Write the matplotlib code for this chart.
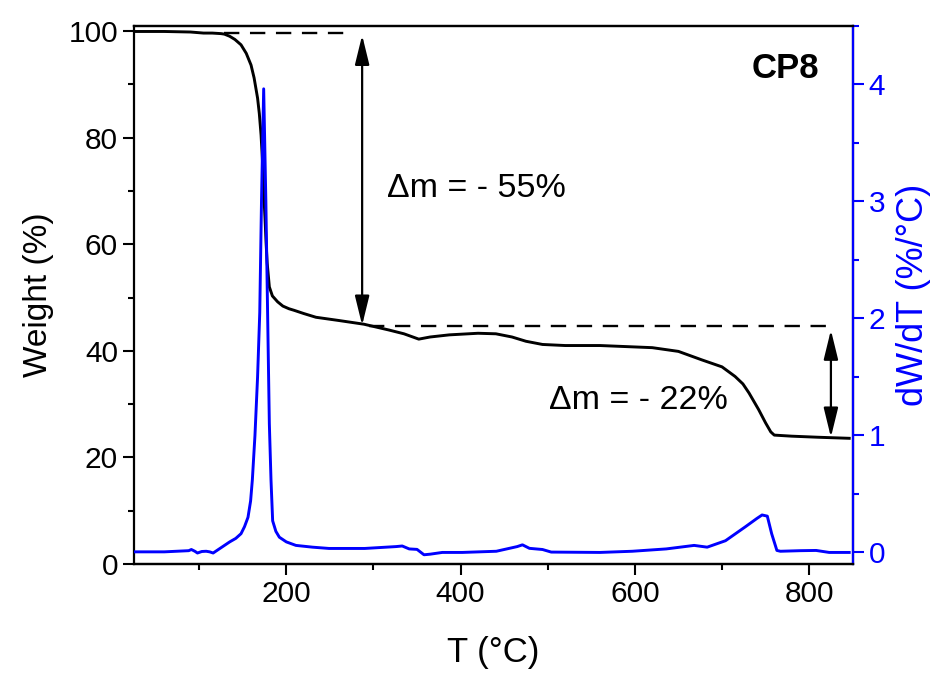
import matplotlib
matplotlib.use("Agg")
import matplotlib.pyplot as plt
from matplotlib.ticker import MultipleLocator

plt.rcParams['font.family'] = ['Liberation Sans', 'DejaVu Sans']

# Weight (TGA) curve
temp_w = [25, 60, 90, 105, 115, 125, 129, 135, 141, 148, 154, 159.5, 163, 167, 169, 171, 172.5,
          174, 175.5, 176.7, 178, 180.5, 184, 190, 196, 203, 209, 220, 234, 260, 289, 318, 335,
          352, 365, 387, 420, 440.5, 459, 475, 494, 520, 560, 620, 650, 677, 700, 715, 724, 731,
          742, 750, 756, 760, 780, 810, 846]
weight = [99.9, 99.9, 99.8, 99.6, 99.6, 99.5, 99.4, 99.0, 98.4, 97.4, 95.8, 93.6, 91.2, 87.4,
          84.5, 80.5, 76.0, 69.9, 65.0, 60.5, 56.5, 52.0, 50.3, 49.2, 48.4, 47.9, 47.6, 47.0,
          46.3, 45.7, 45.0, 43.9, 43.2, 42.2, 42.6, 43.0, 43.3, 43.2, 42.6, 41.8, 41.2, 41.0,
          41.0, 40.6, 39.9, 38.3, 37.0, 35.2, 33.8, 32.1, 29.0, 26.5, 24.8, 24.2, 24.0, 23.8, 23.6]

# Derivative (DTG) curve
temp_d = [25, 60, 88, 91, 95, 98, 103, 108, 112, 116, 121, 127, 135, 142, 148, 152, 156, 159,
          161, 164, 167, 169.5, 171.5, 174, 176.5, 178.5, 180.5, 182.4, 184.3, 188, 192, 200,
          211, 230, 249, 290, 326, 333, 341, 350, 358, 365, 379, 402, 441, 456, 465, 471, 479,
          494, 504, 560, 597, 636, 668, 683, 704, 727, 740, 746, 752, 757, 763, 767, 790, 808,
          823, 846]
dwdt = [0.005, 0.005, 0.015, 0.025, 0.01, -0.005, 0.008, 0.01, 0.005, -0.005, 0.02, 0.05, 0.09,
        0.12, 0.16, 0.22, 0.3, 0.44, 0.62, 1.0, 1.5, 2.05, 3.0, 3.96, 3.0, 2.05, 1.1, 0.62, 0.27,
        0.18, 0.13, 0.09, 0.06, 0.045, 0.034, 0.034, 0.05, 0.055, 0.03, 0.026, -0.02, -0.015,
        0.0, 0.0, 0.01, 0.035, 0.05, 0.065, 0.035, 0.025, 0.003, 0.0, 0.01, 0.03, 0.06, 0.045,
        0.1, 0.22, 0.29, 0.32, 0.31, 0.16, 0.017, 0.01, 0.015, 0.017, 0.0, 0.0]

# Annotation values
upper_level = 99.6
lower_level = 44.6
labels = ["\u0394m = - 55%", "\u0394m = - 22%"]
sample = "CP8"

fig = plt.figure(figsize=(9.36, 6.74), dpi=100)
ax = fig.add_axes([0.143, 0.163, 0.768, 0.799])
ax2 = ax.twinx()

ax.plot(temp_w, weight, color='black', lw=2.1, zorder=3)
ax2.plot(temp_d, dwdt, color='#0000ff', lw=2.1)

ax.set_xlim(25, 850)
ax.set_ylim(0, 101)
ax2.set_ylim(-0.1, 4.5)

# dashed guide lines
ax.plot([129, 272], [upper_level, upper_level], color='black', lw=1.7, dashes=(6.5, 4.5))
ax.plot([295, 826], [lower_level, lower_level], color='black', lw=1.7, dashes=(6.5, 4.5))

arrow = dict(arrowstyle='<|-|>,head_length=0.9,head_width=0.22', color='black', lw=1.6,
             shrinkA=0, shrinkB=0, mutation_scale=20)
ax.annotate('', xy=(287, 99.2), xytext=(287, 44.8), arrowprops=arrow)
ax.annotate('', xy=(825, 43.9), xytext=(825, 23.8), arrowprops=arrow)

ax.text(316, 70.5, labels[0], fontsize=24.5, va='center', ha='left')
ax.text(501, 30.6, labels[1], fontsize=24.5, va='center', ha='left')
ax.text(812, 93, sample, fontsize=25, fontweight='bold', va='center', ha='right')

ax.set_xlabel("T (\u00b0C)", fontsize=25, labelpad=20)
ax.set_ylabel("Weight (%)", fontsize=24, labelpad=10)
ax2.set_ylabel("dW/dT (%/\u00b0C)", fontsize=26, color='#0000ff', labelpad=8)

ax.xaxis.set_major_locator(MultipleLocator(200))
ax.xaxis.set_minor_locator(MultipleLocator(100))
ax.yaxis.set_major_locator(MultipleLocator(20))
ax.yaxis.set_minor_locator(MultipleLocator(10))
ax2.yaxis.set_major_locator(MultipleLocator(1))
ax2.yaxis.set_minor_locator(MultipleLocator(0.5))

ax.tick_params(axis='both', which='major', direction='out', length=8, width=1.5, labelsize=21.5)
ax.tick_params(axis='both', which='minor', direction='out', length=4, width=1.5)
ax.tick_params(axis='x', top=False, which='both')
ax2.tick_params(axis='y', which='major', direction='out', length=8, width=1.5, labelsize=21.5,
                colors='#0000ff')
ax2.tick_params(axis='y', which='minor', direction='out', length=4, width=1.5, colors='#0000ff')

for sp in ax.spines.values():
    sp.set_linewidth(1.6)
for name, sp in ax2.spines.items():
    sp.set_linewidth(1.6)
ax2.spines['right'].set_color('#0000ff')
ax2.spines['left'].set_visible(False)

fig.savefig("out.png", dpi=100)
